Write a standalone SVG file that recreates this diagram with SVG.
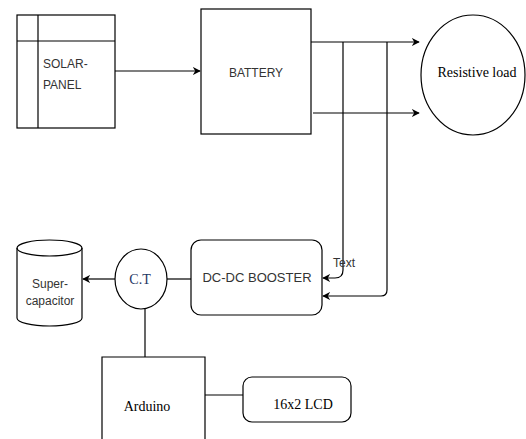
<svg xmlns="http://www.w3.org/2000/svg" width="526" height="439" viewBox="0 0 526 439">
<style>
.s{fill:#fff;stroke:#000;stroke-width:1.2}
.c{fill:none;stroke:#000;stroke-width:1.2}
.a{font-family:"Liberation Sans",Arial,sans-serif;font-size:12px;fill:#333}
.t{font-family:"Liberation Serif","Times New Roman",serif;font-size:14px;fill:#000}
</style>
<defs>
<marker id="ar" viewBox="0 0 10 10" refX="9" refY="5" markerWidth="8" markerHeight="8" markerUnits="userSpaceOnUse" orient="auto">
<path d="M0,0 L10,5 L0,10 L3,5 Z" fill="#000"/>
</marker>
</defs>
<rect width="526" height="439" fill="#fff"/>
<g id="connectors">
<path class="c" d="M115,71 H200" marker-end="url(#ar)"/>
<path class="c" d="M311,42 H419" marker-end="url(#ar)"/>
<path class="c" d="M313,113 H419" marker-end="url(#ar)"/>
<path class="c" d="M343,42 V270 Q343,278 335,278 H323" marker-end="url(#ar)"/>
<path class="c" d="M387,42 V290 Q387,296 381,296 H323" marker-end="url(#ar)"/>
<path class="c" d="M191,279 H167"/>
<path class="c" d="M115,279 H83" marker-end="url(#ar)"/>
<path class="c" d="M145,309 V357"/>
<path class="c" d="M205,395 H247"/>
</g>
<g id="solar">
<rect class="s" x="17" y="15" width="98" height="113"/>
<path class="c" d="M38,15 V128 M17,41 H115"/>
<text class="a" x="43" y="68">SOLAR-</text>
<text class="a" x="43" y="89">PANEL</text>
</g>
<g id="battery">
<rect class="s" x="201" y="9" width="110" height="125"/>
<text class="a" x="256" y="77" text-anchor="middle">BATTERY</text>
</g>
<g id="load">
<ellipse class="s" cx="473" cy="75" rx="52" ry="60"/>
<text class="t" x="477" y="77" text-anchor="middle">Resistive load</text>
</g>
<g id="booster">
<rect class="s" x="191" y="240" width="131" height="75" rx="10"/>
<text class="a" x="257" y="282" text-anchor="middle" style="font-size:13px">DC-DC BOOSTER</text>
</g>
<g id="label">
<text class="a" x="344" y="267" text-anchor="middle">Text</text>
</g>
<g id="supercap">
<path class="s" d="M17,248 A32.5,8 0 0 1 82,248 V318 A32.5,8 0 0 1 17,318 Z"/>
<path class="c" d="M17,248 A32.5,8 0 0 0 82,248"/>
<text class="a" x="50" y="288" text-anchor="middle">Super-</text>
<text class="a" x="50" y="305" text-anchor="middle">capacitor</text>
</g>
<g id="ct">
<ellipse class="s" cx="141" cy="279" rx="26" ry="30"/>
<text class="t" x="140" y="284" text-anchor="middle" style="fill:#1f3864">C.T</text>
</g>
<g id="arduino">
<path class="c" d="M102,440 V357 H205 V440"/>
<text class="t" x="147" y="411" text-anchor="middle">Arduino</text>
</g>
<g id="lcd">
<rect class="s" x="243" y="377" width="108" height="45" rx="9"/>
<text class="t" x="303" y="409" text-anchor="middle">16x2 LCD</text>
</g>
</svg>
